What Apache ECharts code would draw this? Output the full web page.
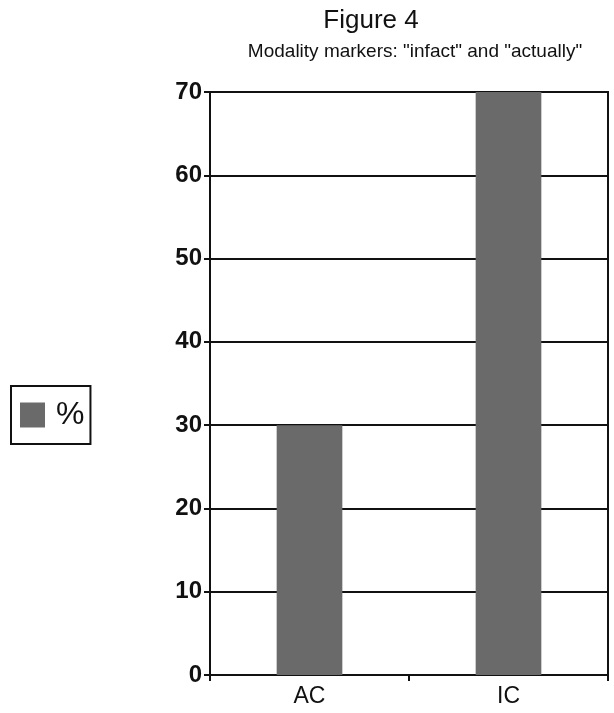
<!DOCTYPE html>
<html>
<head>
<meta charset="utf-8">
<script src="https://cdn.jsdelivr.net/npm/echarts@6/dist/echarts.min.js"></script>
<style>html,body{margin:0;padding:0;background:#fff;}#c{width:614px;height:713px;}</style>
</head>
<body>
<div id="c"></div>
<script>
var categories = ['AC', 'IC'];
var percentValues = [30, 70];
var seriesName = '%';
var chart = echarts.init(document.getElementById('c'));
chart.setOption({
  animation: false,
  backgroundColor: '#fff',
  title: [
    { text: 'Figure 4', left: 366, top: 3, textAlign: 'center',
      textStyle: { fontFamily: 'Liberation Sans', fontSize: 26, fontWeight: 'normal', color: '#111' } },
    { text: 'Modality markers: "infact" and "actually"', left: 410, top: 37, textAlign: 'center',
      textStyle: { fontFamily: 'Liberation Sans', fontSize: 19, fontWeight: 'normal', color: '#111' } }
  ],
  legend: {
    left: 11, top: 386, orient: 'vertical',
    data: [seriesName],
    itemWidth: 25, itemHeight: 25, itemGap: 0,
    padding: [13, 6, 13, 9],
    borderColor: '#111', borderWidth: 2,
    icon: 'rect',
    textStyle: { fontFamily: 'Liberation Sans', fontSize: 32, color: '#111', padding: [0, 0, 0, 6] }
  },
  grid: { left: 210, right: 6, top: 92, bottom: 38, show: true, borderColor: '#111', borderWidth: 2 },
  xAxis: {
    type: 'category', data: categories,
    axisLine: { lineStyle: { color: '#111', width: 2 } },
    axisTick: { show: true, length: 6, lineStyle: { color: '#111', width: 2 } },
    axisLabel: { fontFamily: 'Liberation Sans', fontSize: 23, color: '#111', margin: 10 }
  },
  yAxis: {
    type: 'value', min: 0, max: 70, interval: 10,
    axisLine: { show: true, lineStyle: { color: '#111', width: 2 } },
    axisTick: { show: true, length: 6, lineStyle: { color: '#111', width: 2 } },
    axisLabel: { fontFamily: 'Liberation Sans', fontSize: 24, fontWeight: 'bold', color: '#111', margin: 8 },
    splitLine: { show: true, lineStyle: { color: '#111', width: 2 } }
  },
  series: [{
    name: seriesName, type: 'bar', data: percentValues,
    barWidth: '33%',
    itemStyle: { color: '#6a6a6a' }
  }]
});
</script>
</body>
</html>
